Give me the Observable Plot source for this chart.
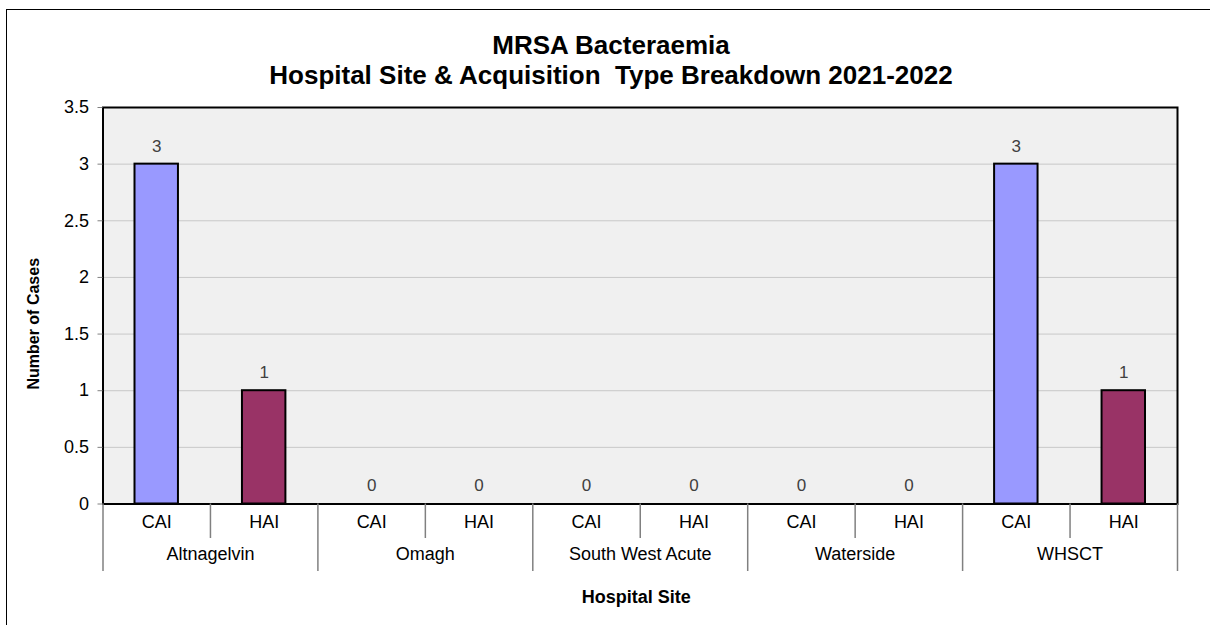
<!DOCTYPE html>
<html>
<head>
<meta charset="utf-8">
<script src="https://cdn.jsdelivr.net/npm/d3@7"></script>
<script src="https://cdn.jsdelivr.net/npm/@observablehq/plot@0.6"></script>
<style>
  html, body { margin: 0; padding: 0; background: #fff; }
  #wrap { position: relative; width: 1210px; height: 625px; overflow: hidden; font-family: "Liberation Sans", Arial, sans-serif; }
  #border { position: absolute; left: 6px; top: 9px; width: 1300px; height: 800px; border-left: 1.5px solid #000; border-top: 1.5px solid #000; }
  #title { position: absolute; left: 12px; top: 30px; width: 1198px; text-align: center; font-weight: bold; font-size: 26px; line-height: 30px; color: #000; }
  #chart { position: absolute; left: 0; top: 90px; }
  #chart svg { overflow: visible; }
</style>
</head>
<body>
<div id="wrap">
  <div id="border"></div>
  <div id="title">MRSA Bacteraemia<br>Hospital Site &amp; Acquisition&nbsp; Type Breakdown 2021-2022</div>
  <div id="chart"></div>
</div>
<script>
// ---- data ----
const sites = ["Altnagelvin", "Omagh", "South West Acute", "Waterside", "WHSCT"];
const types = ["CAI", "HAI"];
const caiCases = [3, 0, 0, 0, 3];
const haiCases = [1, 0, 0, 0, 1];
const yTicks = [0, 0.5, 1, 1.5, 2, 2.5, 3, 3.5];
const typeColors = ["#9999FF", "#993366"];
const titleY = "Number of Cases";
const titleX = "Hospital Site";

// ---- table ----
const rows = [];
sites.forEach((s, i) => {
  rows.push({site: s, type: "CAI", key: s + "|CAI", value: caiCases[i]});
  rows.push({site: s, type: "HAI", key: s + "|HAI", value: haiCases[i]});
});
const keys = rows.map(d => d.key);

const W = 1210, H = 535;
const mL = 102.5, mR = 33, mT = 17, mB = 121.5;
const bw = (W - mL - mR) / keys.length;   // band width
const gridTicks = yTicks.filter(t => t > 0 && t < 3.5);

const font = "Liberation Sans, Arial, sans-serif";

const chart = Plot.plot({
  width: W,
  height: H,
  marginLeft: mL,
  marginRight: mR,
  marginTop: mT,
  marginBottom: mB,
  style: {fontFamily: font, background: "transparent", overflow: "visible"},
  x: {type: "band", domain: keys, padding: 0, round: false, axis: null},
  y: {domain: [0, 3.5], axis: null},
  color: {domain: types, range: typeColors},
  marks: [
    Plot.frame({fill: "#F0F0F0", stroke: null}),
    Plot.ruleY(gridTicks, {stroke: "#a0a0a0", strokeWidth: 1, strokeDasharray: "1,1"}),
    Plot.barY(rows, {x: "key", y: "value", fill: "type", stroke: "#000", strokeWidth: 2, insetLeft: 32, insetRight: 32}),
    Plot.text(rows, {x: "key", y: "value", text: d => String(d.value), dy: -18, fill: "#404040", fontSize: 17}),
    Plot.frame({stroke: "#000", strokeWidth: 2}),
    Plot.axisY({ticks: yTicks, tickFormat: d => String(d), tickSize: 5, tickPadding: 9, fontSize: 18, stroke: "#808080", fill: "#000", label: null}),
    // lower category axis: short separators between CAI and HAI
    Plot.ruleX(rows.filter(d => d.type === "HAI"), {x: "key", y1: 0, y2: 0, insetBottom: -34.5, dx: -bw / 2, stroke: "#808080", strokeWidth: 1.5}),
    // long separators between sites
    Plot.ruleX(rows.filter(d => d.type === "CAI"), {x: "key", y1: 0, y2: 0, insetBottom: -67.5, dx: -bw / 2, stroke: "#808080", strokeWidth: 1.5}),
    Plot.ruleX([rows[rows.length - 1]], {x: "key", y1: 0, y2: 0, insetBottom: -67.5, dx: bw / 2, stroke: "#808080", strokeWidth: 1.5}),
    Plot.text(rows, {x: "key", frameAnchor: "bottom", text: "type", dy: 23.5, fontSize: 18, fill: "#000"}),
    Plot.text(rows.filter(d => d.type === "CAI"), {x: "key", frameAnchor: "bottom", text: "site", dx: bw / 2, dy: 55.5, fontSize: 18, fill: "#000"}),
    Plot.text([titleX], {frameAnchor: "bottom", text: d => d, dy: 98.5, dx: -4, fontSize: 18, fontWeight: "bold", fill: "#000"}),
    Plot.text([titleY], {frameAnchor: "left", textAnchor: "middle", text: d => d, rotate: -90, dx: -69.5, dy: 18, fontSize: 16, fontWeight: "bold", fill: "#000"})
  ]
});
document.getElementById("chart").appendChild(chart);
</script>
</body>
</html>
